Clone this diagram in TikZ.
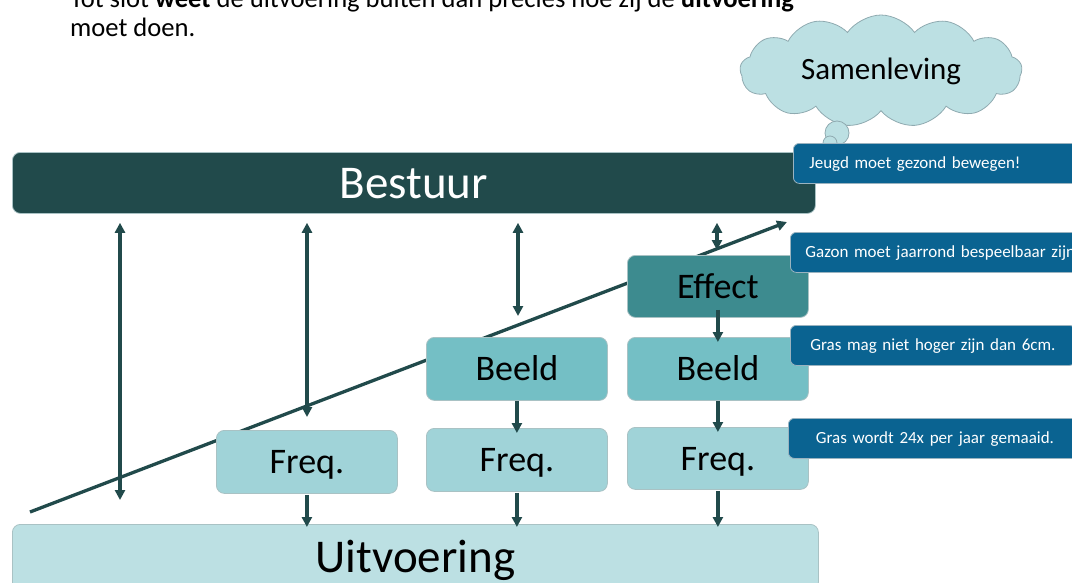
\documentclass[tikz,border=0pt]{standalone}
\usepackage{fontspec}
\setmainfont{Carlito}
\usetikzlibrary{shapes.symbols,arrows.meta}
\definecolor{bestc}{HTML}{214A4B}
\definecolor{effc}{HTML}{3D8B8F}
\definecolor{beeldc}{HTML}{74BFC5}
\definecolor{freqc}{HTML}{A0D3D8}
\definecolor{uitc}{HTML}{BCE0E3}
\definecolor{cloudc}{HTML}{BCE0E3}
\definecolor{cloudl}{HTML}{8FAAB0}
\definecolor{callc}{HTML}{0A6391}
\definecolor{calll}{HTML}{9AB3C0}
\definecolor{arrc}{HTML}{214A4B}
\definecolor{boxl}{HTML}{A9C2C4}
\begin{document}
\begin{tikzpicture}[x=1pt,y=-1pt,
  lvl/.style={draw=boxl, line width=0.8pt, rounded corners=8pt, inner sep=0pt, anchor=north west, text depth=0pt},
  small/.style={lvl, minimum width=181pt, font=\fontsize{36}{40}\selectfont, text height=23.2pt},
  big/.style={lvl, font=\fontsize{47}{52}\selectfont, text height=30.3pt},
  conn/.style={draw=arrc, line width=3.3pt, -{Triangle[length=10pt,width=10pt]}},
  dbl/.style={conn, {Triangle[length=10pt,width=10pt]}-{Triangle[length=10pt,width=10pt]}},
  callout/.style={draw=calll, line width=0.8pt, fill=callc, text=white, rounded corners=6pt, anchor=north west, minimum height=40pt, inner ysep=0pt, font=\fontsize{17}{20}\selectfont, text height=11pt, text depth=0pt},
  bubble/.style={circle, draw=cloudl, fill=cloudc, line width=0.8pt, inner sep=0pt},
  intro/.style={anchor=base west, inner sep=0pt, font=\fontsize{26.6}{29}\selectfont}
]
\useasboundingbox (0,0) rectangle (1072,582);

% intro text (partly cut at the top)
\node[intro] (intro1) at (70,7) {Tot slot \textbf{weet} de uitvoering buiten dan precies hoe zij de \textbf{uitvoering}};
\node[intro] (intro2) at (70,36) {moet doen.};

% cloud
\node[cloud, cloud puffs=13, cloud puff arc=110, cloud ignores aspect, draw=cloudl, fill=cloudc, line width=0.8pt,
      minimum width=282pt, minimum height=112pt, inner sep=0pt,
      font=\fontsize{31}{36}\selectfont] (cloud) at (881,71) {Samenleving};
\node[bubble, minimum size=24pt] (tb1) at (837,133) {};
\node[bubble, minimum size=14pt] (tb2) at (830,143) {};

% diagonal arrow (behind the boxes)
\coordinate (ds) at (30,512);
\coordinate (de) at (787,222);
\draw[conn] (ds) -- (de);

% boxes
\node[big, fill=bestc, text=white, minimum width=803pt, minimum height=61pt] (best) at (12,152) {Bestuur};
\node[big, fill=uitc, minimum width=806pt, minimum height=66pt] (uit) at (12,524) {Uitvoering};
\node[small, fill=freqc, minimum height=63pt] (fr1) at (216,430) {Freq.};
\node[small, fill=freqc, minimum height=63pt] (fr2) at (426,428) {Freq.};
\node[small, fill=freqc, minimum height=62pt] (fr3) at (627,427) {Freq.};
\node[small, fill=beeldc, minimum height=63pt] (be1) at (426,337) {Beeld};
\node[small, fill=beeldc, minimum height=63pt] (be2) at (627,337) {Beeld};
\node[small, fill=effc, minimum height=62pt] (eff) at (627,255) {Effect};

% vertical double arrows from Bestuur
\coordinate (v1) at (120,500);
\coordinate (v2) at (307,417);
\coordinate (v3) at (518,316);
\coordinate (v4) at (717,250);
\draw[dbl, shorten <=9pt] (v1 |- best.south) -- (v1);
\draw[dbl, shorten <=9pt] (v2 |- best.south) -- (v2);
\draw[dbl, shorten <=9pt] (v3 |- best.south) -- (v3);
\draw[dbl, shorten <=9pt] (v4 |- best.south) -- (v4);

% downward arrows
\draw[conn] ([yshift=8pt]eff.south) -- ([yshift=-5pt]be2.north);
\draw[conn] (be1.south) -- ([yshift=-5pt]fr2.north);
\draw[conn] (be2.south) -- ([yshift=-5pt]fr3.north);
\draw[conn] ([yshift=-1pt]fr1.south) -- ([yshift=-3pt]fr1.south |- uit.north);
\draw[conn] ([yshift=-1pt]fr2.south) -- ([yshift=-3pt]fr2.south |- uit.north);
\draw[conn] ([yshift=-1pt]fr3.south) -- ([yshift=-3pt]fr3.south |- uit.north);

% callouts
\node[callout, text width=300pt, align=left, inner xsep=16pt] (c1) at (793,143) {Jeugd moet gezond bewegen!};
\node[callout, text width=300pt, align=left, inner xsep=15pt] (c2) at (790,232) {Gazon moet jaarrond bespeelbaar zijn};
\node[callout, text width=285pt, align=center, inner xsep=0pt] (c3) at (790,325) {Gras mag niet hoger zijn dan 6cm.};
\node[callout, text width=293pt, align=center, inner xsep=0pt] (c4) at (788,418) {Gras wordt 24x per jaar gemaaid.};
\end{tikzpicture}
\end{document}
